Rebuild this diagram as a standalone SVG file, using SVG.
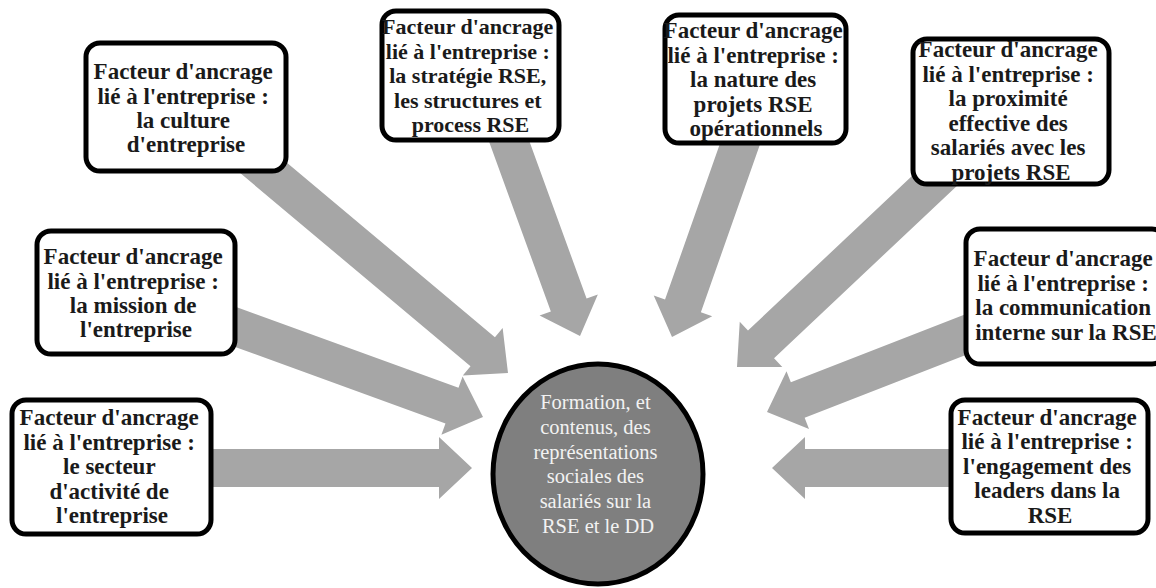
<svg xmlns="http://www.w3.org/2000/svg" width="1156" height="588" viewBox="0 0 1156 588">
  <style>
    .arrow { fill: #a6a6a6; stroke: none; }
    .box { fill: #ffffff; stroke: #000000; stroke-width: 5; }
    .hub { fill: #7f7f7f; stroke: #000000; stroke-width: 5; }
    .lbl { font-family: "Liberation Serif", "Times New Roman", serif; font-weight: bold; font-size: 23px; fill: #1a1a1a; text-anchor: middle; }
    .lbl.tight { font-size: 22px; }
    .hubtxt { font-family: "Liberation Serif", "Times New Roman", serif; font-size: 20.5px; fill: #f2f2f2; text-anchor: middle; }
  </style>

  <!-- block arrows: local shape points along +x with the tip at the origin -->
  <g id="connectors">
    <path class="arrow" transform="translate(508,373) rotate(40)" d="M0,0 L-33,-31 L-33,-19 L-345,-19 L-345,19 L-33,19 L-33,31 Z"/>
    <path class="arrow" transform="translate(483,417) rotate(20)" d="M0,0 L-33,-31 L-33,-19 L-290,-19 L-290,19 L-33,19 L-33,31 Z"/>
    <path class="arrow" transform="translate(472,468) rotate(0)" d="M0,0 L-33,-31 L-33,-19 L-270,-19 L-270,19 L-33,19 L-33,31 Z"/>
    <path class="arrow" transform="translate(580,336) rotate(70)" d="M0,0 L-33,-31 L-33,-19 L-230,-19 L-230,19 L-33,19 L-33,31 Z"/>
    <path class="arrow" transform="translate(672,337) rotate(109.4)" d="M0,0 L-33,-31 L-33,-19 L-230,-19 L-230,19 L-33,19 L-33,31 Z"/>
    <path class="arrow" transform="translate(737,367) rotate(136.7)" d="M0,0 L-33,-31 L-33,-19 L-290,-19 L-290,19 L-33,19 L-33,31 Z"/>
    <path class="arrow" transform="translate(767,412) rotate(158.7)" d="M0,0 L-33,-31 L-33,-19 L-230,-19 L-230,19 L-33,19 L-33,31 Z"/>
    <path class="arrow" transform="translate(772,468) rotate(180)" d="M0,0 L-33,-31 L-33,-19 L-190,-19 L-190,19 L-33,19 L-33,31 Z"/>
  </g>

  <g id="hub">
    <ellipse class="hub" cx="598" cy="474" rx="105" ry="110"/>
    <text class="hubtxt">
      <tspan x="598" y="409">Formation, et</tspan>
      <tspan x="598" y="434">contenus, des</tspan>
      <tspan x="598" y="459">représentations</tspan>
      <tspan x="598" y="483">sociales des</tspan>
      <tspan x="598" y="508">salariés sur la</tspan>
      <tspan x="598" y="533">RSE et le DD</tspan>
    </text>
  </g>

  <g id="culture">
    <rect class="box" x="86" y="43" width="200" height="128" rx="14"/>
    <text class="lbl">
      <tspan x="186" y="79">Facteur d'ancrage</tspan>
      <tspan x="186" y="103.5">lié à l'entreprise :</tspan>
      <tspan x="186" y="128">la culture</tspan>
      <tspan x="186" y="152">d'entreprise</tspan>
    </text>
  </g>

  <g id="mission">
    <rect class="box" x="37" y="231" width="198" height="123" rx="14"/>
    <text class="lbl">
      <tspan x="136" y="264">Facteur d'ancrage</tspan>
      <tspan x="136" y="288.5">lié à l'entreprise :</tspan>
      <tspan x="136" y="313">la mission de</tspan>
      <tspan x="136" y="337">l'entreprise</tspan>
    </text>
  </g>

  <g id="secteur">
    <rect class="box" x="12" y="400" width="199" height="134" rx="14"/>
    <text class="lbl">
      <tspan x="112" y="425">Facteur d'ancrage</tspan>
      <tspan x="112" y="449.5">lié à l'entreprise :</tspan>
      <tspan x="112" y="474">le secteur</tspan>
      <tspan x="112" y="498.5">d'activité de</tspan>
      <tspan x="112" y="523">l'entreprise</tspan>
    </text>
  </g>

  <g id="strategie">
    <rect class="box" x="382" y="11" width="177" height="129" rx="14"/>
    <text class="lbl tight">
      <tspan x="470.5" y="34">Facteur d'ancrage</tspan>
      <tspan x="470.5" y="58.5">lié à l'entreprise :</tspan>
      <tspan x="470.5" y="83">la stratégie RSE,</tspan>
      <tspan x="470.5" y="107.5">les structures et</tspan>
      <tspan x="470.5" y="132">process RSE</tspan>
    </text>
  </g>

  <g id="nature">
    <rect class="box" x="665" y="15" width="181" height="128" rx="14"/>
    <text class="lbl">
      <tspan x="756" y="38">Facteur d'ancrage</tspan>
      <tspan x="756" y="62.5">lié à l'entreprise :</tspan>
      <tspan x="756" y="87">la nature des</tspan>
      <tspan x="756" y="111.5">projets RSE</tspan>
      <tspan x="756" y="136">opérationnels</tspan>
    </text>
  </g>

  <g id="proximite">
    <rect class="box" x="913" y="39" width="196" height="145" rx="14"/>
    <text class="lbl">
      <tspan x="1011" y="57">Facteur d'ancrage</tspan>
      <tspan x="1011" y="81.5">lié à l'entreprise :</tspan>
      <tspan x="1011" y="106">la proximité</tspan>
      <tspan x="1011" y="130.5">effective des</tspan>
      <tspan x="1011" y="155">salariés avec les</tspan>
      <tspan x="1011" y="179.5">projets RSE</tspan>
    </text>
  </g>

  <g id="communication">
    <rect class="box" x="966" y="229" width="200" height="135" rx="14"/>
    <text class="lbl">
      <tspan x="1066" y="266">Facteur d'ancrage</tspan>
      <tspan x="1066" y="290.5">lié à l'entreprise :</tspan>
      <tspan x="1066" y="315">la communication</tspan>
      <tspan x="1066" y="339.5">interne sur la RSE</tspan>
    </text>
  </g>

  <g id="engagement">
    <rect class="box" x="951" y="400" width="197" height="133" rx="14"/>
    <text class="lbl">
      <tspan x="1050" y="424.5">Facteur d'ancrage</tspan>
      <tspan x="1050" y="449">lié à l'entreprise :</tspan>
      <tspan x="1050" y="473.5">l'engagement des</tspan>
      <tspan x="1050" y="498">leaders dans la</tspan>
      <tspan x="1050" y="522.5">RSE</tspan>
    </text>
  </g>
</svg>
